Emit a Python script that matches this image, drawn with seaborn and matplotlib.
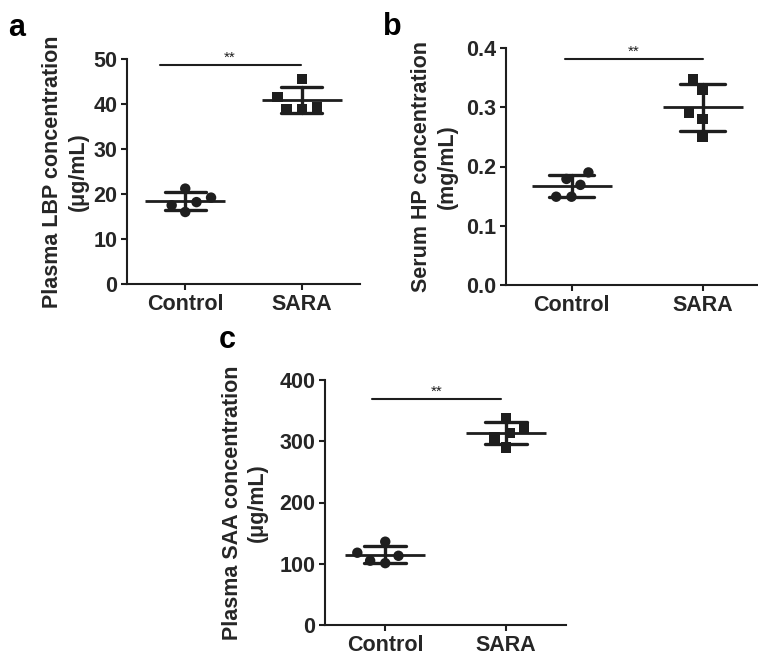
import pandas as pd
import numpy as np
import seaborn as sns
import matplotlib.pyplot as plt

# values (n = 5 per group)
groups = ['Control', 'SARA']
ctrl_lbp = [18.2, 21.2, 16.0, 17.5, 19.2]
sara_lbp = [45.6, 39.2, 38.9, 38.9, 41.5]
ctrl_hp = [0.190, 0.169, 0.179, 0.149, 0.149]
sara_hp = [0.291, 0.329, 0.280, 0.250, 0.348]
ctrl_saa = [113, 136, 101, 105, 118]
sara_saa = [337, 313, 321, 290, 306]

ylabels = ['Plasma LBP concentration\n(\u03bcg/mL)',
           'Serum HP concentration\n(mg/mL)',
           'Plasma SAA concentration\n(\u03bcg/mL)']
yticks = [[0, 10, 20, 30, 40, 50],
          [0.0, 0.1, 0.2, 0.3, 0.4],
          [0, 100, 200, 300, 400]]
ytick_fmt = ['{:.0f}', '{:.1f}', '{:.0f}']
panel_letters = ['a', 'b', 'c']
sig_y = [48.7, 0.381, 369]
sig_x = [(-0.22, 0.99), (-0.05, 1.0), (-0.11, 0.96)]

sns.set_style('ticks')
plt.rcParams['font.family'] = ['Liberation Sans', 'DejaVu Sans']
plt.rcParams['font.weight'] = 'bold'
plt.rcParams['axes.labelweight'] = 'bold'

ink = '#1e1e1e'
W, H = 758, 656
fig = plt.figure(figsize=(W / 100, H / 100), dpi=100)

# axes boxes in pixels: left, top, right, bottom
boxes = [(127, 59, 360, 284), (506, 48, 768, 285), (325, 380, 566, 625)]
label_x = [-0.165, -0.183, -0.235]
letter_pos = [(8, 36), (383, 35), (219, 348)]

panels = [(ctrl_lbp, sara_lbp), (ctrl_hp, sara_hp), (ctrl_saa, sara_saa)]

for i, (ctrl, sara) in enumerate(panels):
    l, t, r, b = boxes[i]
    ax = fig.add_axes([l / W, (H - b) / H, (r - l) / W, (b - t) / H])
    df = pd.DataFrame({'group': ['Control'] * len(ctrl) + ['SARA'] * len(sara),
                       'value': ctrl + sara})

    # invisible edge widens the swarm spacing like the original
    sns.swarmplot(data=df[df.group == 'Control'], x='group', y='value', order=groups,
                  marker='o', size=7.5, color=ink, linewidth=3, edgecolor='none', ax=ax)
    sns.swarmplot(data=df[df.group == 'SARA'], x='group', y='value', order=groups,
                  marker='s', size=7.5, color=ink, linewidth=3, edgecolor='none', ax=ax)
    # mean +/- SD
    sns.pointplot(data=df, x='group', y='value', order=groups, errorbar='sd',
                  capsize=0.35, color=ink, marker='_', markersize=58,
                  markeredgewidth=2.0, linestyle='none',
                  err_kws={'linewidth': 2.4}, ax=ax)

    # significance bar
    ax.plot(sig_x[i], [sig_y[i], sig_y[i]], color=ink, lw=1.5, clip_on=False)
    ax.text(np.mean(sig_x[i]), sig_y[i], '**', ha='center', va='bottom',
            fontsize=11, fontweight='normal', color=ink)

    ax.set_xlim(-0.5, 1.5)
    ax.set_ylim(yticks[i][0], yticks[i][-1])
    ax.set_yticks(yticks[i])
    ax.set_yticklabels([ytick_fmt[i].format(v) for v in yticks[i]])
    ax.set_xlabel('')
    ax.set_ylabel(ylabels[i], fontsize=15.5, fontweight='bold', linespacing=1.3)
    ax.yaxis.set_label_coords(label_x[i], 0.5)
    ax.tick_params(labelsize=15.5, length=4, width=1.5, color=ink, pad=3)
    for s in ['top', 'right']:
        ax.spines[s].set_visible(False)
    for s in ['left', 'bottom']:
        ax.spines[s].set_linewidth(1.5)
        ax.spines[s].set_color(ink)

    fig.text(letter_pos[i][0] / W, 1 - letter_pos[i][1] / H, panel_letters[i],
             fontsize=22, fontweight='bold', color='black', va='baseline')

fig.savefig('out.png', dpi=100)
